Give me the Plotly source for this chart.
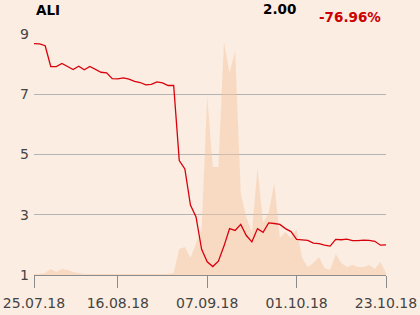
import pandas as pd
import plotly.graph_objects as go

# trading days (weekends and 15.08.2018 excluded)
dates = [d for d in pd.bdate_range("2018-07-25", "2018-10-23") if d != pd.Timestamp("2018-08-15")]

price = [8.68, 8.67, 8.61, 7.92, 7.92, 8.02, 7.92, 7.82, 7.93, 7.81,
         7.92, 7.82, 7.73, 7.71, 7.52, 7.51, 7.54, 7.50, 7.43, 7.39,
         7.31, 7.33, 7.41, 7.38, 7.29, 7.29, 4.80, 4.52, 3.32, 2.93,
         1.85, 1.44, 1.28, 1.46, 1.96, 2.54, 2.48, 2.68, 2.31, 2.10,
         2.54, 2.42, 2.73, 2.71, 2.68, 2.54, 2.44, 2.18, 2.17, 2.15,
         2.06, 2.04, 1.99, 1.96, 2.18, 2.17, 2.19, 2.14, 2.14, 2.16,
         2.15, 2.12, 1.99, 2.00]

volume = [1, 1, 2, 6, 3, 6, 5, 3, 2, 1,
          1, 1, 1, 0.5, 0.5, 0.5, 0.5, 0.5, 0.5, 0.5,
          0.5, 0.5, 0.5, 1, 1, 2, 26, 28, 17, 32,
          45, 179, 108, 108, 233, 202, 224, 82, 58, 42,
          107, 52, 62, 92, 37, 43, 37, 46, 17, 8,
          12, 18, 7, 5, 21, 12, 8, 10, 8, 8,
          10, 6, 13, 2]

tick_dates = ["2018-07-25", "2018-08-16", "2018-09-07", "2018-10-01", "2018-10-23"]
y_ticks = [1, 3, 5, 7, 9]

name = "ALI"
last = "2.00"
change = "-76.96%"

bg = "#fbede1"
fig = go.Figure()
fig.add_trace(go.Scatter(x=dates, y=volume, mode="lines", line=dict(width=0),
                         fill="tozeroy", fillcolor="rgba(245,196,160,0.45)",
                         yaxis="y", hoverinfo="skip"))
fig.add_trace(go.Scatter(x=dates, y=price, mode="lines",
                         line=dict(color="#d9000d", width=1.3), yaxis="y2"))

fig.update_layout(
    width=420, height=315, showlegend=False,
    paper_bgcolor=bg, plot_bgcolor=bg,
    margin=dict(l=34, r=34, t=34, b=40),
    font=dict(family="DejaVu Sans", color="#444444", size=14),
    xaxis=dict(type="date", range=[dates[0], dates[-1]], automargin=False,
               rangebreaks=[dict(bounds=["sat", "mon"]), dict(values=["2018-08-15"])],
               tickvals=tick_dates, tickformat="%d.%m.%y",
               showgrid=False, showline=True, linecolor="#8c8c8c", linewidth=1,
               ticks="outside", ticklen=12, tickcolor="#8c8c8c", tickwidth=1,
               ticklabelstandoff=3,
               zeroline=False, tickfont=dict(size=14, color="#444444")),
    yaxis=dict(range=[0, 241], visible=False, fixedrange=True, automargin=False),
    yaxis2=dict(overlaying="y", side="left", range=[1, 9], tickvals=y_ticks,
                automargin=False,
                showgrid=True, gridcolor="#b4b4b4", gridwidth=1, zeroline=False,
                showline=False, ticks="", ticklabelstandoff=4,
                tickfont=dict(size=14, color="#444444")),
    annotations=[
        dict(text="<b>%s</b>" % name, x=0, xref="paper", xanchor="left",
             y=(275 - 10) / 241, yref="paper", yanchor="middle", showarrow=False,
             font=dict(size=13.5, color="#000000")),
        dict(text="<b>%s</b>" % last, x=(298 - 34) / 352, xref="paper", xanchor="right",
             y=(275 - 9) / 241, yref="paper", yanchor="middle", showarrow=False,
             font=dict(size=13.5, color="#000000")),
        dict(text="<b>%s</b>" % change, x=(383 - 34) / 352, xref="paper", xanchor="right",
             y=(275 - 17) / 241, yref="paper", yanchor="middle", showarrow=False,
             font=dict(size=13.5, color="#cc0000")),
    ],
)

fig.write_html("out.html")
